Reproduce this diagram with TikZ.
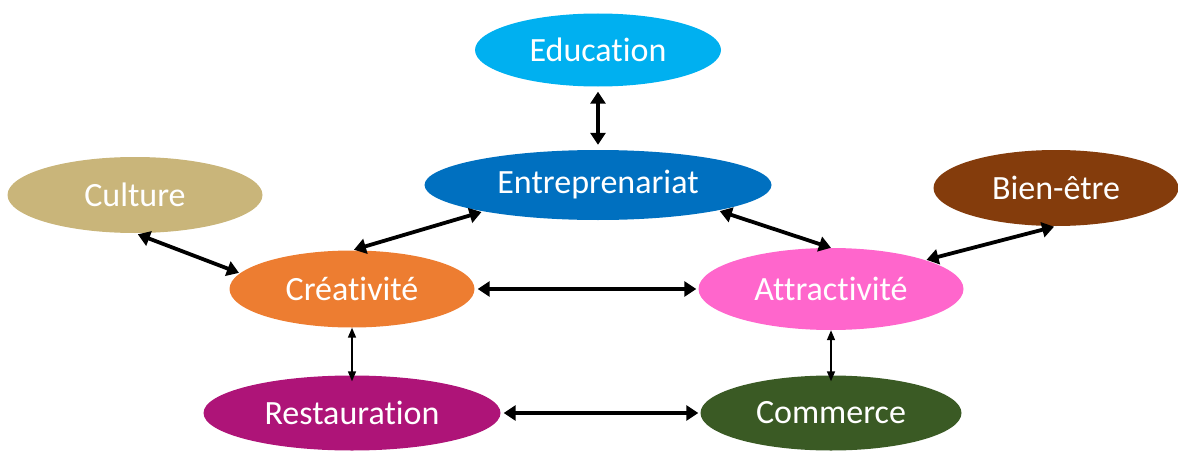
\documentclass[tikz,border=0pt]{standalone}
\usepackage{fontspec}
\setmainfont{Carlito}[Ligatures={NoCommon,NoRequired,NoContextual}]
\usetikzlibrary{shapes.geometric,arrows.meta}
\definecolor{cEdu}{HTML}{00B0F0}
\definecolor{cEnt}{HTML}{0070C0}
\definecolor{cCul}{HTML}{C9B57A}
\definecolor{cBien}{HTML}{843C0C}
\definecolor{cCre}{HTML}{ED7D31}
\definecolor{cAttr}{HTML}{FF66CC}
\definecolor{cRest}{HTML}{AE1478}
\definecolor{cComm}{HTML}{3A5A24}
\tikzset{
  bubble/.style={ellipse, draw=none, inner sep=0pt, text=white,
    font=\fontsize{34}{40}\selectfont},
  bigarrow/.style={line width=3.8pt, {Triangle[width=15pt,length=12pt]}-{Triangle[width=15pt,length=12pt]}},
  thinarrow/.style={line width=1.6pt, {Triangle[width=8pt,length=10pt]}-{Triangle[width=8pt,length=10pt]}}
}
\begin{document}
\begin{tikzpicture}[x=1pt,y=-1pt]
\useasboundingbox (0,0) rectangle (1178,452);
\node[bubble, fill=cEdu, minimum width=246pt, minimum height=73pt] (edu) at (598,50) {Education};
\node[bubble, fill=cEnt, minimum width=347pt, minimum height=70pt] (ent) at (598,185) {Entreprenariat};
\node[bubble, fill=cCul, minimum width=255pt, minimum height=76pt] (cul) at (135,195) {Culture};
\node[bubble, fill=cBien, minimum width=245pt, minimum height=76pt] (bien) at (1056,188) {Bien-être};
\node[bubble, fill=cCre, minimum width=245pt, minimum height=77pt] (cre) at (352,289) {Créativité};
\node[bubble, fill=cAttr, minimum width=265pt, minimum height=82pt] (attr) at (831,289) {Attractivité};
\node[bubble, fill=cRest, minimum width=297pt, minimum height=75pt] (rest) at (352,413) {Restauration};
\node[bubble, fill=cComm, minimum width=261pt, minimum height=75pt] (comm) at (831,413) {Commerce};

\draw[bigarrow, shorten <=5pt, shorten >=5pt] (edu.south) -- (ent.north);
\draw[bigarrow, shorten <=2pt, shorten >=2pt] (cre.north) -- (ent.193);
\draw[bigarrow, shorten <=3pt, shorten >=1pt] (cul.south) -- (cre.172);
\draw[bigarrow, shorten <=3pt, shorten >=2pt] (cre.east) -- (attr.west);
\draw[bigarrow, shorten <=2pt, shorten >=0pt] (ent.348) -- (attr.north);
\draw[bigarrow, shorten <=1pt, shorten >=2pt] (attr.17) -- (bien.south);
\draw[thinarrow, shorten >=-6pt] (cre.south) -- (rest.north);
\draw[thinarrow, shorten >=-6pt] (attr.south) -- (comm.north);
\draw[bigarrow, shorten <=3pt, shorten >=2pt] (rest.east) -- (comm.west);
\end{tikzpicture}
\end{document}
